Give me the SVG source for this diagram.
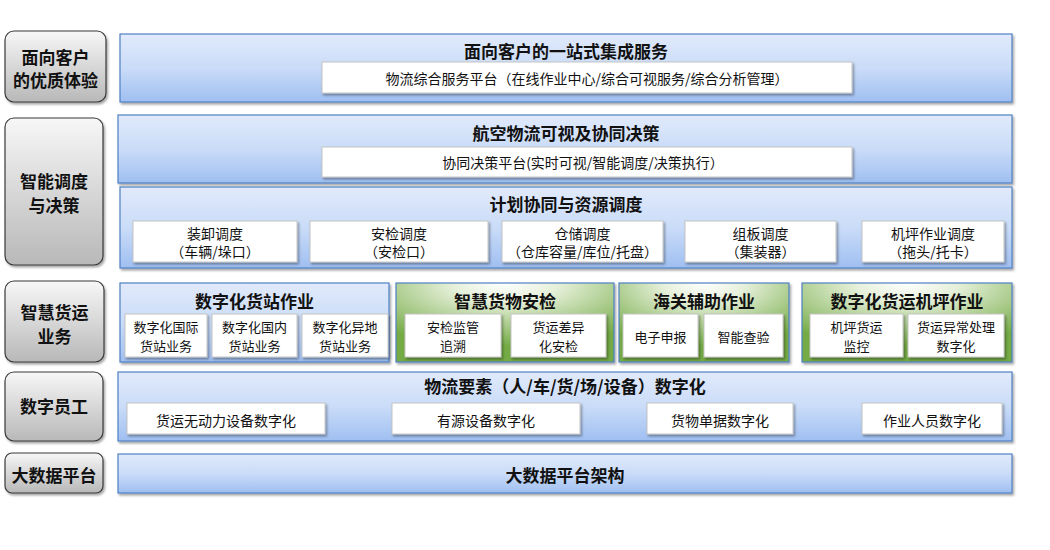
<svg xmlns="http://www.w3.org/2000/svg" width="1050" height="550" viewBox="0 0 1050 550">
<defs>
<linearGradient id="gBlue" x1="0" y1="0" x2="0" y2="1"><stop offset="0" stop-color="#e1eafb"/><stop offset="0.5" stop-color="#cadcf8"/><stop offset="1" stop-color="#9fbff1"/></linearGradient>
<linearGradient id="gGray" x1="0" y1="0" x2="0" y2="1"><stop offset="0" stop-color="#f7f7f7"/><stop offset="1" stop-color="#b8b8b8"/></linearGradient>
<radialGradient id="gGreen" cx="0.5" cy="0" r="0.8" fx="0.5" fy="0"><stop offset="0" stop-color="#ffffff"/><stop offset="0.3" stop-color="#e6f0da"/><stop offset="1" stop-color="#74ab45"/></radialGradient>
<filter id="sh" x="-5%" y="-10%" width="110%" height="130%"><feDropShadow dx="1.5" dy="2" stdDeviation="1" flood-color="#000" flood-opacity="0.35"/></filter>
</defs>
<style>
text{font-family:"Noto Sans CJK SC","Noto Sans",sans-serif;fill:#111;text-anchor:middle;dominant-baseline:central}
.lab rect{fill:url(#gGray);stroke:#3a3a3a;stroke-width:1.2;filter:url(#sh)}
.lab text{font-size:17px;font-weight:bold}
.pb{fill:url(#gBlue);stroke:#4f80c4;stroke-width:1.2;filter:url(#sh)}
.pg{fill:url(#gGreen);stroke:#4f80c4;stroke-width:1.2;filter:url(#sh)}
.t{font-size:17px;font-weight:bold}
.w{fill:#fff;stroke:#c4c4c4;stroke-width:1;filter:url(#sh)}
.s{font-size:14px}
.s3{font-size:13px}
</style>
<rect width="1050" height="550" fill="#fff"/>

<g id="label-customer" class="lab"><rect x="5" y="31" width="101" height="71" rx="9"/><text x="55.5" y="56">面向客户<tspan x="55.5" y="79">的优质体验</tspan></text></g>
<g id="label-dispatch" class="lab"><rect x="5" y="118" width="98" height="147" rx="9"/><text x="54" y="180.5">智能调度<tspan x="54" y="203.5">与决策</tspan></text></g>
<g id="label-cargo" class="lab"><rect x="5" y="281" width="99" height="81" rx="9"/><text x="54.5" y="311">智慧货运<tspan x="54.5" y="335">业务</tspan></text></g>
<g id="label-staff" class="lab"><rect x="5" y="372" width="98" height="69" rx="9"/><text x="54" y="405.5">数字员工</text></g>
<g id="label-bigdata" class="lab"><rect x="5" y="453" width="98" height="40" rx="7"/><text x="54" y="474">大数据平台</text></g>

<g id="panel-onestop"><rect class="pb" x="120" y="34" width="892" height="68"/><text class="t" x="566" y="50.5">面向客户的一站式集成服务</text>
<rect class="w" x="322" y="62" width="530" height="31"/><text class="s" x="587" y="78">物流综合服务平台（在线作业中心/综合可视服务/综合分析管理）</text></g>

<g id="panel-visibility"><rect class="pb" x="118" y="115" width="894" height="68"/><text class="t" x="566" y="132">航空物流可视及协同决策</text>
<rect class="w" x="322" y="147" width="530" height="30"/><text class="s" x="583" y="162">协同决策平台(实时可视/智能调度/决策执行）</text></g>

<g id="panel-resource"><rect class="pb" x="120" y="187" width="892" height="81"/><text class="t" x="566" y="203.5">计划协同与资源调度</text>
<g id="node-loading"><rect class="w" x="133" y="221" width="164" height="41"/><text class="s" x="215" y="232.5">装卸调度<tspan x="215" y="251">（车辆/垛口）</tspan></text></g>
<g id="node-security"><rect class="w" x="310" y="221" width="178" height="41"/><text class="s" x="399" y="232.5">安检调度<tspan x="399" y="251">（安检口）</tspan></text></g>
<g id="node-storage"><rect class="w" x="502" y="221" width="161" height="41"/><text class="s" x="582.5" y="232.5">仓储调度<tspan x="582.5" y="251">（仓库容量/库位/托盘）</tspan></text></g>
<g id="node-uld"><rect class="w" x="685" y="221" width="151" height="41"/><text class="s" x="760.5" y="232.5">组板调度<tspan x="760.5" y="251">（集装器）</tspan></text></g>
<g id="node-apron"><rect class="w" x="862" y="221" width="142" height="41"/><text class="s" x="933" y="232.5">机坪作业调度<tspan x="933" y="251">（拖头/托卡）</tspan></text></g>
</g>

<g id="panel-station"><rect class="pb" x="120" y="283" width="269" height="79"/><text class="t" x="254.5" y="300">数字化货站作业</text>
<g id="node-intl"><rect class="w" x="125" y="314" width="82" height="43"/><text class="s3" x="166" y="326.5">数字化国际<tspan x="166" y="344.5">货站业务</tspan></text></g>
<g id="node-dom"><rect class="w" x="212" y="314" width="85" height="43"/><text class="s3" x="254.5" y="326.5">数字化国内<tspan x="254.5" y="344.5">货站业务</tspan></text></g>
<g id="node-remote"><rect class="w" x="302" y="314" width="86" height="43"/><text class="s3" x="345" y="326.5">数字化异地<tspan x="345" y="344.5">货站业务</tspan></text></g></g>

<g id="panel-screening"><rect class="pg" x="396" y="283" width="218" height="79"/><text class="t" x="505" y="300">智慧货物安检</text>
<g id="node-trace"><rect class="w" x="405" y="314" width="96" height="43"/><text class="s3" x="453" y="326.5">安检监管<tspan x="453" y="344.5">追溯</tspan></text></g>
<g id="node-diff"><rect class="w" x="511" y="314" width="95" height="43"/><text class="s3" x="558.5" y="326.5">货运差异<tspan x="558.5" y="344.5">化安检</tspan></text></g></g>

<g id="panel-customs"><rect class="pg" x="619" y="283" width="170" height="79"/><text class="t" x="704" y="300">海关辅助作业</text>
<g id="node-edecl"><rect class="w" x="623" y="314" width="75" height="43"/><text class="s3" x="660.5" y="336">电子申报</text></g>
<g id="node-inspect"><rect class="w" x="704" y="314" width="79" height="43"/><text class="s3" x="743.5" y="336">智能查验</text></g></g>

<g id="panel-apronops"><rect class="pg" x="802" y="283" width="210" height="79"/><text class="t" x="907" y="300">数字化货运机坪作业</text>
<g id="node-monitor"><rect class="w" x="810" y="314" width="93" height="43"/><text class="s3" x="856.5" y="326.5">机坪货运<tspan x="856.5" y="344.5">监控</tspan></text></g>
<g id="node-exception"><rect class="w" x="908" y="314" width="96" height="43"/><text class="s3" x="956" y="326.5">货运异常处理<tspan x="956" y="344.5">数字化</tspan></text></g></g>

<g id="panel-elements"><rect class="pb" x="118" y="372" width="894" height="69"/><text class="t" x="565" y="385.5">物流要素（人/车/货/场/设备）数字化</text>
<g id="node-passive"><rect class="w" x="127" y="403" width="198" height="31"/><text class="s" x="226" y="420">货运无动力设备数字化</text></g>
<g id="node-active"><rect class="w" x="392" y="403" width="188" height="31"/><text class="s" x="486" y="420">有源设备数字化</text></g>
<g id="node-docs"><rect class="w" x="647" y="403" width="146" height="31"/><text class="s" x="720" y="420">货物单据数字化</text></g>
<g id="node-people"><rect class="w" x="862" y="403" width="140" height="31"/><text class="s" x="932" y="420">作业人员数字化</text></g></g>

<g id="panel-bigdata"><rect class="pb" x="118" y="454" width="894" height="39"/><text class="t" x="565" y="474">大数据平台架构</text></g>

<g id="connectors"/>
</svg>
